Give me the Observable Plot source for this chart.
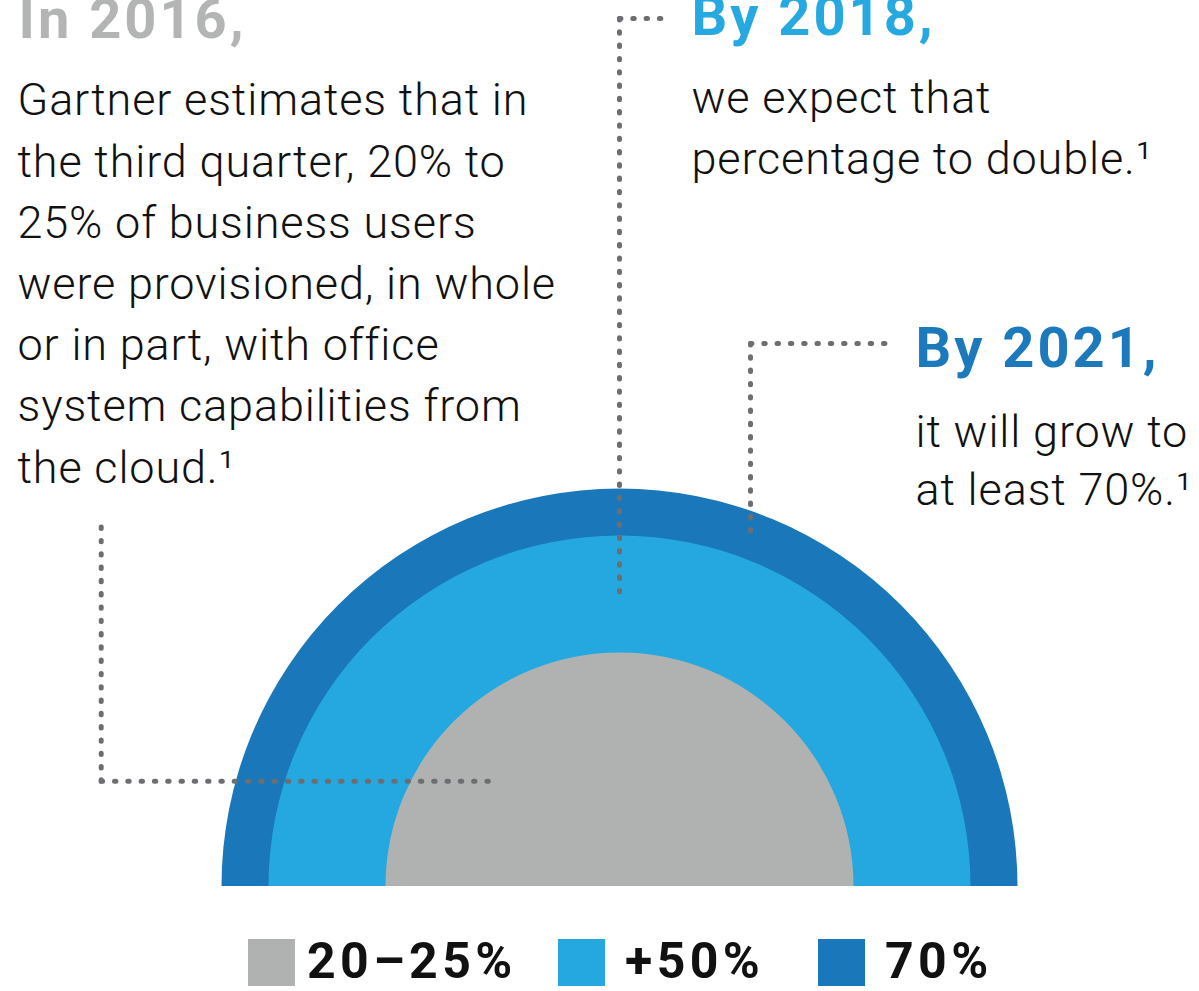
<!DOCTYPE html>
<html>
<head>
<meta charset="utf-8">
<script src="https://cdn.jsdelivr.net/npm/d3@7"></script>
<script src="https://cdn.jsdelivr.net/npm/@observablehq/plot@0.6"></script>
<style>
  html, body { margin: 0; padding: 0; background: #ffffff; overflow: hidden; }
  #chart svg { display: block; overflow: hidden; }
  #chart svg g[font-weight="700"] text { letter-spacing: 3px; }
  #chart svg g[font-weight="300"] text { letter-spacing: 0.85px; }
  .lg-swatches { justify-content: flex-start !important; flex-wrap: nowrap !important; padding-left: 248px; margin-top: 49px; line-height: 1; letter-spacing: 4.4px; white-space: nowrap; }
  .lg-swatch { margin-right: 0 !important; flex-shrink: 0; white-space: nowrap; }
  .lg-swatch > svg { margin-right: 20px !important; margin-top: 4px; flex-shrink: 0; }
</style>
</head>
<body>
<div id="chart"></div>
<script>
// ---- data ----
const ringLabels = ["20–25%", "+50%", "70%"];
const ringValues = [22.5, 50, 70];
const ringColors = ["#b0b2b2", "#24a8df", "#1a78ba"];

const noteYears = ["In 2016,", "By 2018,", "By 2021,"];
const noteColors = ["#b3b4b4", "#25a9e0", "#1b79bc"];
const noteBodies = [
  "Gartner estimates that in\nthe third quarter, 20% to\n25% of business users\nwere provisioned, in whole\nor in part, with office\nsystem capabilities from\nthe cloud.¹",
  "we expect that\npercentage to double.¹",
  "it will grow to\nat least 70%.¹"
];

// ---- layout (chart units: x relative to the ring centre, y up from the baseline) ----
const W = 1199, H = 886, CX = 619;
const headSize = 56, bodySize = 45;
const noteX = [-601, 72, 296];
const headBase = [37, 34, 366];          // baseline of heading, px from top
const bodyBase = [115, 113, 446];        // baseline of first body line
const bodyGap = [61.2, 61, 59];          // line spacing px
// each leader: corner point, then the two arm ends
const leaders = [
  [[-518.3, 105.3], [-518.3, 361], [-130, 105.3]],
  [[0, 868], [46, 868], [0, 283]],
  [[131, 543], [273, 543], [131, 348]]
];
const legendItemWidths = [310, 260, null];
const legendGaps = [12, 20, 20];

const rings = ringLabels.map((label, i) => ({label, value: ringValues[i], color: ringColors[i]}))
  .sort((a, b) => b.value - a.value);

const heads = noteYears.map((t, i) => ({
  text: t, color: noteColors[i], x: noteX[i],
  y: H - (headBase[i] - 0.71 * headSize)
}));
const bodies = noteBodies.map((t, i) => ({
  text: t, x: noteX[i] - (i === 0 ? 1 : 0),
  y: H - (bodyBase[i] - 0.71 * bodyGap[i]),
  lh: bodyGap[i] / bodySize
}));
const leaderPts = leaders.flatMap(([c, a, b], k) => [
  {k: k + "a", x: c[0], y: c[1]}, {k: k + "a", x: a[0], y: a[1]},
  {k: k + "b", x: c[0], y: c[1]}, {k: k + "b", x: b[0], y: b[1]}
]);

const svg = Plot.plot({
  width: W, height: H,
  margin: 0,
  x: {domain: [-CX, W - CX], range: [0, W], axis: null},
  y: {domain: [0, H], range: [H, 0], axis: null},
  r: {type: "linear", domain: [0, 22.5, 50, 70], range: [0, 234, 351, 398]},
  style: {background: "#ffffff", overflow: "hidden"},
  marks: [
    Plot.dot([{x: 614, y: 666}], {x: "x", y: "y", r: 0, fill: "#eef6fa"}),
    Plot.dot(rings, {x: () => 0, y: () => 0, r: "value", fill: "color", stroke: null, clip: true, sort: null}),
    Plot.line(leaderPts, {x: "x", y: "y", z: "k", stroke: "#6d6e71", strokeWidth: 5,
      strokeDasharray: "1.4 11.9", strokeLinecap: "round", strokeLinejoin: "round"}),
    ...heads.map(h => Plot.text([h], {x: "x", y: "y", text: "text", fill: h.color,
      textAnchor: "start", lineAnchor: "top", fontSize: headSize, fontWeight: 700,
      fontFamily: "Roboto, 'Open Sans', sans-serif"})),
    ...bodies.map(b => Plot.text([b], {x: "x", y: "y", text: "text", fill: "#111111",
      textAnchor: "start", lineAnchor: "top", lineHeight: b.lh, fontSize: bodySize, fontWeight: 300,
      fontFamily: "Roboto, 'Open Sans', sans-serif"}))
  ]
});
// faint shape at the right edge (cropped circle)
svg.querySelectorAll("circle").forEach(c => { if (c.getAttribute("fill") === "#eef6fa") c.setAttribute("r", 41); });
document.getElementById("chart").appendChild(svg);

const legend = Plot.legend({
  color: {type: "ordinal", domain: ringLabels, range: ringColors},
  swatchSize: 47,
  className: "lg",
  style: {fontSize: "50px", fontWeight: 700, fontFamily: "Roboto, 'Open Sans', sans-serif", color: "#111111"}
});
legend.querySelectorAll(".lg-swatch").forEach((el, i) => {
  if (legendItemWidths[i]) el.style.width = legendItemWidths[i] + "px";
  const sw = el.querySelector("svg");
  if (sw) sw.style.setProperty("margin-right", legendGaps[i] + "px", "important");
});
document.getElementById("chart").appendChild(legend);
</script>
</body>
</html>
